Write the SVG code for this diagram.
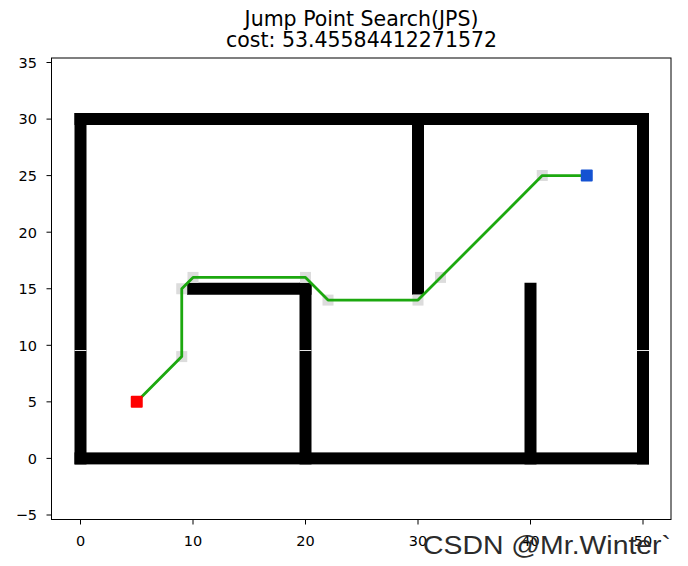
<svg xmlns="http://www.w3.org/2000/svg" width="688" height="566" viewBox="0 0 688 566">
  <style>
    .tick { font-family: "DejaVu Sans", sans-serif; font-size: 14.5px; fill: #000; }
    .title { font-family: "DejaVu Sans", sans-serif; font-size: 20.5px; fill: #000; text-anchor: middle; }
    .wall { fill: #000; }
    .jp { fill: #dcdcdc; }
    .tk { stroke: #000; stroke-width: 1; }
    .gap { stroke: #e6e6e6; stroke-width: 1; }
  </style>
  <rect x="0" y="0" width="688" height="566" fill="#fff"/>

  <g id="title">
    <text class="title" x="361.5" y="26">Jump Point Search(JPS)</text>
    <text class="title" x="361.5" y="46.5">cost: 53.45584412271572</text>
  </g>

  <g id="axes">
    <rect x="51.5" y="58" width="619.5" height="461.5" fill="none" stroke="#000" stroke-width="1"/>
    <g id="yticks">
      <line class="tk" x1="46.5" y1="62.5" x2="51.5" y2="62.5"/>
      <line class="tk" x1="46.5" y1="119.1" x2="51.5" y2="119.1"/>
      <line class="tk" x1="46.5" y1="175.6" x2="51.5" y2="175.6"/>
      <line class="tk" x1="46.5" y1="232.2" x2="51.5" y2="232.2"/>
      <line class="tk" x1="46.5" y1="288.75" x2="51.5" y2="288.75"/>
      <line class="tk" x1="46.5" y1="345.3" x2="51.5" y2="345.3"/>
      <line class="tk" x1="46.5" y1="401.85" x2="51.5" y2="401.85"/>
      <line class="tk" x1="46.5" y1="458.4" x2="51.5" y2="458.4"/>
      <line class="tk" x1="46.5" y1="515" x2="51.5" y2="515"/>
      <g text-anchor="end">
        <text class="tick" x="37" y="67.8">35</text>
        <text class="tick" x="37" y="124.4">30</text>
        <text class="tick" x="37" y="180.9">25</text>
        <text class="tick" x="37" y="237.5">20</text>
        <text class="tick" x="37" y="294">15</text>
        <text class="tick" x="37" y="350.6">10</text>
        <text class="tick" x="37" y="407.1">5</text>
        <text class="tick" x="37" y="463.7">0</text>
        <text class="tick" x="37" y="520.3">−5</text>
      </g>
    </g>
    <g id="xticks">
      <line class="tk" x1="80.5" y1="519.5" x2="80.5" y2="524.5"/>
      <line class="tk" x1="193" y1="519.5" x2="193" y2="524.5"/>
      <line class="tk" x1="305.5" y1="519.5" x2="305.5" y2="524.5"/>
      <line class="tk" x1="418" y1="519.5" x2="418" y2="524.5"/>
      <line class="tk" x1="530.5" y1="519.5" x2="530.5" y2="524.5"/>
      <line class="tk" x1="643" y1="519.5" x2="643" y2="524.5"/>
      <g text-anchor="middle">
        <text class="tick" x="80.5" y="545.5">0</text>
        <text class="tick" x="193" y="545.5">10</text>
        <text class="tick" x="305.5" y="545.5">20</text>
        <text class="tick" x="418" y="545.5">30</text>
        <text class="tick" x="530.5" y="545.5">40</text>
        <text class="tick" x="643" y="545.5">50</text>
      </g>
    </g>
  </g>

  <g id="walls">
    <rect class="wall" x="74.5" y="113" width="574.5" height="12"/>
    <rect class="wall" x="74.5" y="452.4" width="574.5" height="12"/>
    <rect class="wall" x="74.5" y="113" width="12" height="351.4"/>
    <rect class="wall" x="637" y="113" width="12" height="351.4"/>
    <rect class="wall" x="187" y="282.75" width="124.5" height="12"/>
    <rect class="wall" x="299.5" y="282.75" width="12" height="181.65"/>
    <rect class="wall" x="412" y="113" width="12" height="181.75"/>
    <rect class="wall" x="524.5" y="282.75" width="12" height="181.65"/>
    <line class="gap" x1="74.5" y1="350.5" x2="86.5" y2="350.5"/>
    <line class="gap" x1="299.5" y1="350.5" x2="311.5" y2="350.5"/>
    <line class="gap" x1="637" y1="350.5" x2="649" y2="350.5"/>
  </g>

  <g id="jump-points">
    <rect class="jp" x="176.25" y="351.1" width="11" height="11"/>
    <rect class="jp" x="176.25" y="283.25" width="11" height="11"/>
    <rect class="jp" x="187.5" y="271.9" width="11" height="11"/>
    <rect class="jp" x="300" y="271.9" width="11" height="11"/>
    <rect class="jp" x="322.5" y="294.6" width="11" height="11"/>
    <rect class="jp" x="412.5" y="294.6" width="11" height="11"/>
    <rect class="jp" x="435" y="271.9" width="11" height="11"/>
    <rect class="jp" x="536.75" y="170" width="11" height="11"/>
  </g>

  <g id="connectors">
    <polyline fill="none" stroke="#1ca80f" stroke-width="2.8" stroke-linejoin="round"
      points="136.75,401.85 181.75,356.6 181.75,288.75 193,277.4 305.5,277.4 328,300.1 418,300.1 542.25,175.6 586.75,175.6"/>
  </g>

  <g id="start">
    <rect x="130.75" y="395.85" width="12" height="12" rx="1" fill="#ff0000"/>
  </g>
  <g id="goal">
    <rect x="580.75" y="169.6" width="12" height="12" rx="1" fill="#1452d2"/>
  </g>

  <g id="watermark">
    <text x="423" y="554" font-family="'Liberation Sans', Arial, sans-serif" font-size="26.5" fill="#2b2b2b" textLength="248" lengthAdjust="spacingAndGlyphs">CSDN @Mr.Winter`</text>
  </g>
</svg>
